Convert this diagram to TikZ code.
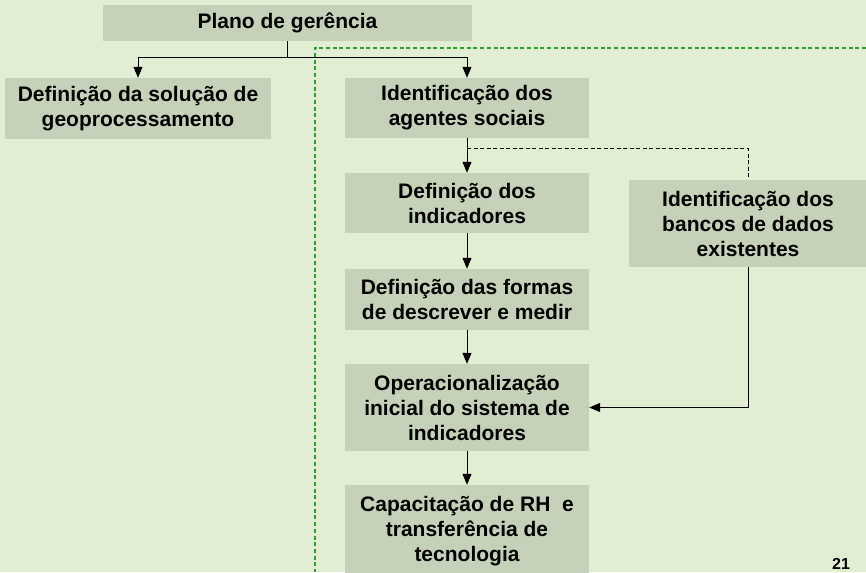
\documentclass[tikz,border=0pt]{standalone}
\usepackage{fontspec}
\setmainfont{Liberation Sans}
\usetikzlibrary{arrows.meta}
\definecolor{bgc}{HTML}{E1EED4}
\definecolor{boxc}{HTML}{C6D1B9}
\definecolor{grn}{HTML}{2FA02F}
\tikzset{
  box/.style={fill=boxc, draw=none, inner sep=0pt, align=center,
    font=\fontsize{21}{25}\selectfont\bfseries, text=black},
  conn/.style={line width=1pt, draw=black},
  arr/.style={conn, -{Triangle[width=9pt,length=11pt]}},
  dconn/.style={conn, dash pattern=on 4pt off 2.5pt},
  gdash/.style={line width=1.2pt, draw=grn, dash pattern=on 4pt off 2.7pt}
}
\begin{document}
\begin{tikzpicture}[x=1pt,y=-1pt]
\fill[bgc] (0,0) rectangle (866,572);
\useasboundingbox (0,0) rectangle (866,572);
\clip (0,0) rectangle (866,572);
% green dashed frame
\coordinate (g1) at (866,48);
\coordinate (g2) at (315,48);
\coordinate (g3) at (315,572);
\draw[gdash] (g1) -- (g2) -- (g3);
% boxes
\node[box, minimum width=369pt, minimum height=36pt] (plano) at (287.5,23) {Plano de gerência};
\node[box, minimum width=266pt, minimum height=61pt] (solucao) at (138,108.5) {Definição da solução de\\geoprocessamento};
\node[box, minimum width=244pt, minimum height=60pt] (agentes) at (467,108) {Identificação dos\\agentes sociais};
\node[box, minimum width=244pt, minimum height=60pt] (indic) at (467,203) {Definição dos\\indicadores};
\node[box, minimum width=244pt, minimum height=61pt] (formas) at (467,299.5) {Definição das formas\\de descrever e medir};
\node[box, minimum width=244pt, minimum height=87pt] (oper) at (467,407.5) {Operacionalização\\inicial do sistema de\\indicadores};
\node[box, minimum width=244pt, minimum height=92pt] (capac) at (467,531) {Capacitação de RH\ \ e\\transferência de\\tecnologia};
\node[box, minimum width=238pt, minimum height=87pt] (banco) at (748,223.5) {Identificação dos\\bancos de dados\\existentes};
\node[font=\fontsize{16}{18}\selectfont\bfseries, text=black, inner sep=0pt] (pg) at (841,564) {21};
% connectors
\coordinate (pj) at (287.5,58);
\draw[conn] (plano.south) -- (pj);
\draw[arr] (pj) -| (solucao.north);
\draw[arr] (pj) -| (agentes.north);
\draw[arr] (agentes) -- (indic);
\coordinate (aj) at (467,149);
\draw[dconn] (aj) -| (banco.north);
\draw[arr] (indic) -- (formas);
\draw[arr] (formas) -- (oper);
\draw[arr] (oper) -- (capac);
\draw[arr] (banco.south) |- (oper.east);
\end{tikzpicture}
\end{document}
